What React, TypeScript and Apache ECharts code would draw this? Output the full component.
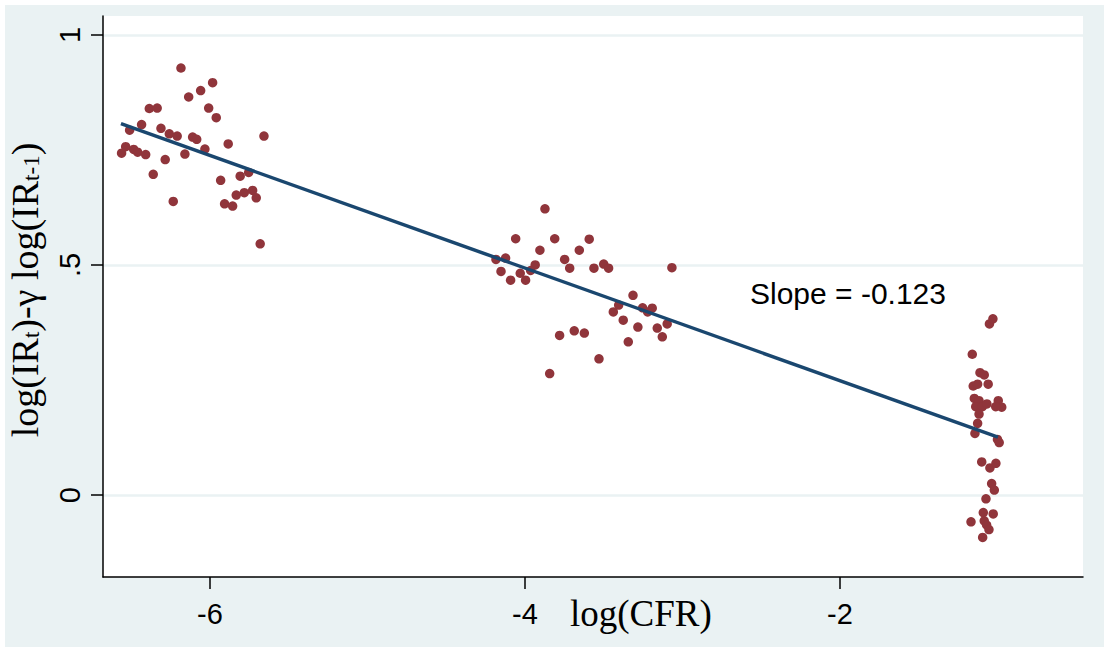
import React, { useEffect, useRef } from "react";
import * as echarts from "echarts";

// log(CFR) and log(IR_t) - gamma log(IR_{t-1}) for three groups of observations
const cfrLow = [
  -6.184, -5.983, -6.059, -6.135, -6.385, -6.335, -6.008, -5.96, -6.434, -6.51,
  -6.311, -6.258, -6.208, -6.11, -6.084, -5.657, -5.884, -6.032, -6.535, -6.561,
  -6.484, -6.459, -6.408, -6.284, -6.159, -6.36, -6.233, -5.932, -5.808, -5.754,
  -5.833, -5.782, -5.729, -5.706, -5.907, -5.856, -5.681,
];
const irLow = [
  0.928, 0.896, 0.879, 0.865, 0.84, 0.841, 0.841, 0.82, 0.805, 0.793,
  0.797, 0.785, 0.78, 0.778, 0.773, 0.78, 0.763, 0.752, 0.757, 0.743,
  0.751, 0.745, 0.74, 0.729, 0.741, 0.697, 0.638, 0.684, 0.693, 0.701,
  0.652, 0.657, 0.662, 0.646, 0.633, 0.628, 0.546,
];
const cfrMid = [
  -3.873, -4.059, -3.811, -3.592, -3.905, -3.655, -4.184, -4.123, -3.748, -3.935,
  -3.964, -3.716, -3.562, -3.5, -3.469, -3.067, -4.152, -4.03, -4.091, -3.996,
  -3.314, -3.405, -3.253, -3.192, -3.221, -3.439, -3.376, -3.283, -3.16, -3.097,
  -3.128, -3.344, -3.78, -3.687, -3.623, -3.53, -3.843,
];
const irMid = [
  0.622, 0.557, 0.557, 0.556, 0.532, 0.532, 0.512, 0.515, 0.512, 0.5,
  0.488, 0.493, 0.493, 0.502, 0.493, 0.494, 0.486, 0.482, 0.467, 0.467,
  0.434, 0.413, 0.407, 0.406, 0.398, 0.398, 0.38, 0.365, 0.363, 0.372,
  0.344, 0.333, 0.347, 0.357, 0.352, 0.296, 0.264,
];
const cfrHigh = [
  -1.051, -1.029, -1.16, -1.111, -1.084, -1.154, -1.126, -1.059, -1.147, -1.117,
  -1.138, -1.096, -1.067, -0.995, -0.973, -1.011, -1.117, -1.126, -1.143, -1.0,
  -0.989, -1.1, -1.048, -1.01, -1.037, -1.02, -1.073, -1.09, -1.027, -1.168,
  -1.084, -1.069, -1.054, -1.094,
];
const irHigh = [
  0.372, 0.383, 0.306, 0.266, 0.261, 0.237, 0.241, 0.241, 0.21, 0.205,
  0.192, 0.192, 0.198, 0.205, 0.191, 0.192, 0.176, 0.156, 0.134, 0.121,
  0.114, 0.072, 0.059, 0.069, 0.025, 0.011, -0.008, -0.038, -0.041, -0.058,
  -0.056, -0.065, -0.075, -0.092,
];

// fitted regression line endpoints
const fitX = [-6.565, -0.997];
const fitY = [0.807, 0.126];
const slopeText = "Slope = -0.123";

const xTicks = [-6, -4, -2];
const yTicks = [0, 0.5, 1];
const yTickLabels = ["0", ".5", "1"];

const BG = "#eaf2f3";
const DOT = "#90353b";
const NAVY = "#1a476f";

export default function App() {
  const ref = useRef<HTMLDivElement>(null);

  useEffect(() => {
    document.body.style.margin = "0";
    if (!ref.current) return;
    const chart = echarts.init(ref.current, undefined, { renderer: "svg" });

    const pts: number[][] = [];
    [
      [cfrLow, irLow],
      [cfrMid, irMid],
      [cfrHigh, irHigh],
    ].forEach(([xs, ys]) => xs.forEach((x, i) => pts.push([x, ys[i]])));

    const sans = "'Liberation Sans', Arial, sans-serif";
    const serif = "'Liberation Serif', 'Times New Roman', serif";

    chart.setOption({
      animation: false,
      backgroundColor: BG,
      grid: {
        left: 98,
        top: 11,
        right: 21,
        bottom: 70,
        show: true,
        backgroundColor: "#ffffff",
        borderWidth: 0,
        outerBoundsMode: "none",
        containLabel: false,
      },
      xAxis: {
        type: "value",
        min: -6.679,
        max: -0.457,
        axisLine: { show: true, onZero: false, lineStyle: { color: "#000", width: 1.5 } },
        axisTick: { show: true, length: 12, customValues: xTicks, lineStyle: { color: "#000", width: 1.5 } },
        axisLabel: {
          customValues: xTicks,
          margin: 22,
          fontSize: 29,
          fontFamily: sans,
          color: "#000",
          formatter: (v: number) => String(v),
        },
        splitLine: { show: false },
      },
      yAxis: {
        type: "value",
        min: -0.178,
        max: 1.041,
        axisLine: { show: true, onZero: false, lineStyle: { color: "#000", width: 1.5 } },
        axisTick: { show: true, length: 12, customValues: yTicks, lineStyle: { color: "#000", width: 1.5 } },
        axisLabel: {
          customValues: yTicks,
          rotate: 90,
          margin: 19,
          fontSize: 29,
          fontFamily: sans,
          color: "#000",
          formatter: (v: number) => {
            const i = yTicks.findIndex((t) => Math.abs(t - v) < 1e-9);
            return i >= 0 ? yTickLabels[i] : "";
          },
        },
        splitLine: { show: true, lineStyle: { color: BG, width: 2.5 } },
      },
      graphic: [
        {
          type: "text",
          x: 20,
          y: 285,
          rotation: Math.PI / 2,
          style: {
            text: "{m|log(IR}{s|t}{m|)-γ log(IR}{s|t-1}{m|)}",
            align: "center",
            verticalAlign: "middle",
            fill: "#000",
            rich: {
              m: { fontFamily: serif, fontSize: 38, lineHeight: 36, verticalAlign: "middle", fill: "#000" },
              s: { fontFamily: serif, fontSize: 23, lineHeight: 20, verticalAlign: "bottom", fill: "#000" },
            },
          },
        },
        {
          type: "text",
          x: 565,
          y: 608,
          style: {
            text: "log(CFR)",
            fontFamily: serif,
            fontSize: 37,
            align: "left",
            verticalAlign: "middle",
            fill: "#000",
          },
        },
        {
          type: "text",
          x: 745,
          y: 288,
          style: {
            text: slopeText,
            fontFamily: sans,
            fontSize: 30,
            align: "left",
            verticalAlign: "middle",
            fill: "#000",
          },
        },
      ],
      series: [
        {
          type: "scatter",
          data: pts,
          symbol: "circle",
          symbolSize: 9.5,
          itemStyle: { color: DOT, opacity: 1 },
          z: 2,
        },
        {
          type: "line",
          data: fitX.map((x, i) => [x, fitY[i]]),
          showSymbol: false,
          symbol: "none",
          lineStyle: { color: NAVY, width: 3.5 },
          z: 3,
        },
      ],
    });

    return () => chart.dispose();
  }, []);

  return (
    <div style={{ position: "relative", width: 1104, height: 647, background: "#fff" }}>
      <div
        ref={ref}
        style={{ position: "absolute", left: 5, top: 5, width: 1099, height: 642 }}
      />
    </div>
  );
}
